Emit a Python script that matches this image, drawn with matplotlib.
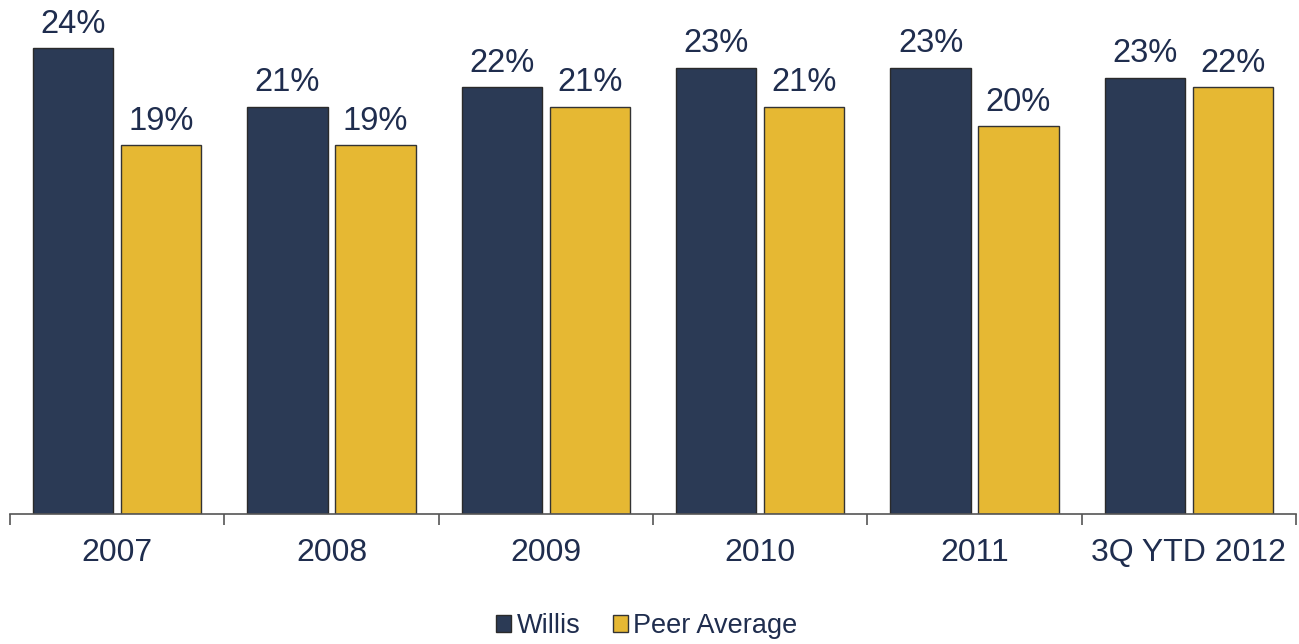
import matplotlib
matplotlib.use("Agg")
import matplotlib.pyplot as plt
import numpy as np

categories = ["2007", "2008", "2009", "2010", "2011", "3Q YTD 2012"]
willis = [24, 21, 22, 23, 23, 22.5]
peer = [19, 19, 21, 21, 20, 22]
willis_labels = ["24%", "21%", "22%", "23%", "23%", "23%"]
peer_labels = ["19%", "19%", "21%", "21%", "20%", "22%"]

navy = "#2B3A55"
gold = "#E6B833"
txt = "#1F2D4E"

plt.rcParams['font.family'] = ['Liberation Sans', 'DejaVu Sans']

W, H = 1299, 644
fig = plt.figure(figsize=(W/100, H/100), dpi=100)
ax = fig.add_axes([10/W, (H-514)/H, (1296-10)/W, 514/H])

x = np.arange(len(categories))
bw = 0.375
off = 0.205
b1 = ax.bar(x - off, willis, bw, color=navy, edgecolor="#2a2a2a", linewidth=1, label="Willis")
b2 = ax.bar(x + off, peer, bw, color=gold, edgecolor="#333333", linewidth=1, label="Peer Average")

for bars, labels in ((b1, willis_labels), (b2, peer_labels)):
    for rect, lab in zip(bars, labels):
        ax.annotate(lab, (rect.get_x() + rect.get_width()/2, rect.get_height()),
                    xytext=(0, 6), textcoords="offset points", ha="center", va="bottom",
                    fontsize=23.5, color=txt)

ax.set_xlim(-0.5, len(categories) - 0.5)
ax.set_ylim(0, 514/19.4)
for s in ["top", "right", "left"]:
    ax.spines[s].set_visible(False)
ax.spines["bottom"].set_color("#555555")
ax.spines["bottom"].set_linewidth(1.2)
ax.set_yticks([])
ax.set_xticks(x)
ax.set_xticklabels(categories, fontsize=23, color=txt)
ax.tick_params(axis="x", which="major", length=0, pad=17)
ax.set_xticks(np.arange(-0.5, len(categories)), minor=True)
ax.tick_params(axis="x", which="minor", length=8, width=1.2, color="#555555", direction="out")

leg = fig.legend(handles=[b1, b2], labels=["Willis", "Peer Average"], loc="center",
                 bbox_to_anchor=(647/W, 1 - 626/H), ncol=2, frameon=False,
                 fontsize=19.5, handlelength=0.55, handleheight=0.55, handletextpad=0.2,
                 columnspacing=1.2)
for t in leg.get_texts():
    t.set_color(txt)

fig.savefig("out.png", dpi=100)
